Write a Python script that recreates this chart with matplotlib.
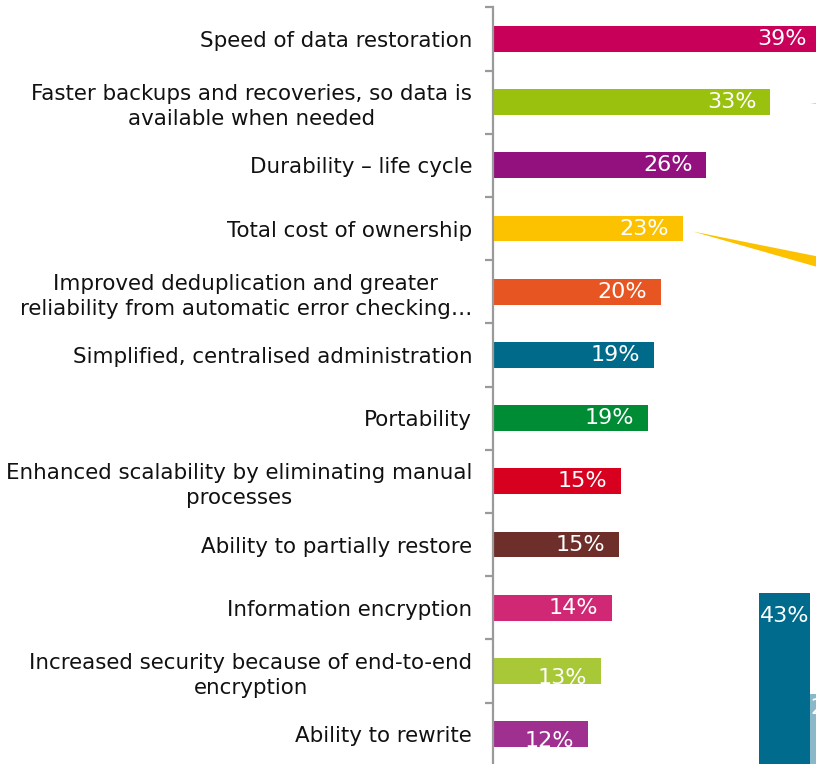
import matplotlib
matplotlib.use("Agg")
import matplotlib.pyplot as plt
from matplotlib.patches import Polygon

# ------------------------------------------------------------------
# Data
# ------------------------------------------------------------------
categories = [
    "Speed of data restoration",
    "Faster backups and recoveries, so data is\navailable when needed",
    "Durability \u2013 life cycle",
    "Total cost of ownership",
    "Improved deduplication and greater\nreliability from automatic error checking\u2026",
    "Simplified, centralised administration",
    "Portability",
    "Enhanced scalability by eliminating manual\nprocesses",
    "Ability to partially restore",
    "Information encryption",
    "Increased security because of end-to-end\nencryption",
    "Ability to rewrite",
]
bar_values = [39.0, 33.0, 25.4, 22.6, 20.0, 19.2, 18.5, 15.2, 15.0, 14.2, 12.9, 11.3]
value_labels = ["39%", "33%", "26%", "23%", "20%", "19%", "19%", "15%", "15%", "14%", "13%", "12%"]
bar_colors = [
    "#C8005A", "#9BC10F", "#93117E", "#FCC200", "#E65522", "#006A8A",
    "#008C35", "#D7001F", "#6E2E2A", "#D02874", "#A8C838", "#A03090",
]

# partial second chart visible at the right edge
side_values = [43, 22]
side_labels = ["43%", "22%"]
side_colors = ["#006B8C", "#8BB8C8"]

FIG_W, FIG_H = 816, 764

fig = plt.figure(figsize=(FIG_W / 100, FIG_H / 100), dpi=100)

# ------------------------------------------------------------------
# Main horizontal bar chart
# ------------------------------------------------------------------
ax_left, ax_top, ax_bot = 493, 7.3, 765.7
ax = fig.add_axes([ax_left / FIG_W, 1 - ax_bot / FIG_H,
                   1 - ax_left / FIG_W, (ax_bot - ax_top) / FIG_H])

y = list(range(len(categories)))
ax.barh(y, bar_values, height=0.41, color=bar_colors, zorder=2)
ax.set_xlim(0, (FIG_W - ax_left) / 8.4)
ax.set_ylim(len(categories) - 0.5, -0.5)

label_dy = [0] * 10 + [0.11, 0.11]
for i, (v, lab) in enumerate(zip(bar_values, value_labels)):
    ax.text(v - 4.6, i + label_dy[i], lab, ha="center", va="center",
            color="white", fontsize=16, zorder=3)

for s in ["top", "right", "bottom"]:
    ax.spines[s].set_visible(False)
ax.spines["left"].set_color("#9a9a9a")
ax.spines["left"].set_linewidth(1.6)
ax.set_xticks([])

ax.set_yticks(y)
ax.set_yticklabels(categories, fontsize=15.4, color="#111111", linespacing=1.3)
plt.setp(ax.get_yticklabels(), multialignment="center")
ax.tick_params(axis="y", which="major", length=0, pad=15)
ax.set_yticks([i - 0.5 for i in range(len(categories) + 1)], minor=True)
ax.tick_params(axis="y", which="minor", length=6, width=1.6, color="#9a9a9a",
               direction="out")

# ------------------------------------------------------------------
# Cropped neighbour chart on the right
# ------------------------------------------------------------------
px_per_unit = 4.81
base_y = 800
ax2 = fig.add_axes([759 / FIG_W, 1 - base_y / FIG_H, 102 / FIG_W,
                    50 * px_per_unit / FIG_H])
ax2.bar([0, 1], side_values, width=1.0, color=side_colors)
ax2.set_xlim(-0.5, 1.5)
ax2.set_ylim(0, 50)
ax2.axis("off")
ax2.text(0, side_values[0] - 2.6, side_labels[0], ha="center", va="top",
         color="white", fontsize=16)
ax2.text(1, side_values[1] - 0.8, side_labels[1], ha="center", va="top",
         color="white", fontsize=16)

# callout wedges leading off to the right
fig.canvas.draw()
def wedge(bar_idx, gap, dy_tip, spread, color):
    x_end, y_mid = ax.transData.transform((bar_values[bar_idx], bar_idx))
    tx, ty = x_end + gap, y_mid + dy_tip
    dx = 200
    pts = [(tx, ty), (tx + dx, ty + spread[0] * dx), (tx + dx, ty + spread[1] * dx)]
    pts = [(px / FIG_W, py / FIG_H) for px, py in pts]
    fig.add_artist(Polygon(pts, closed=True, color=color, lw=0,
                           transform=fig.transFigure))

wedge(3, 10, -3, (-0.20, -0.285), bar_colors[3])
wedge(1, 40, -2, (0.20, 0.10), bar_colors[1])

fig.savefig("out.png", dpi=100)
